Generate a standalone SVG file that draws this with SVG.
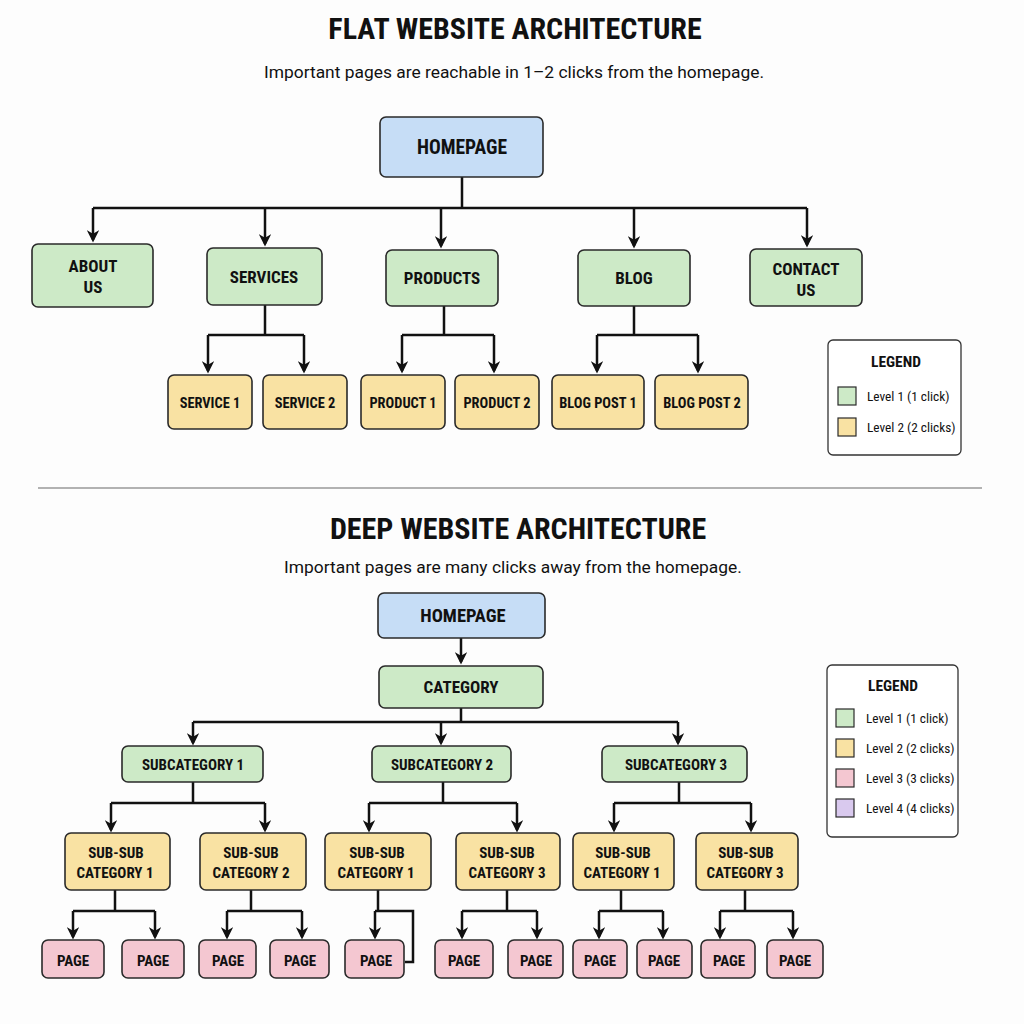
<svg xmlns="http://www.w3.org/2000/svg" width="1024" height="1024" viewBox="0 0 1024 1024">
<defs>
<marker id="ah" viewBox="0 0 10 10" refX="8" refY="5" markerWidth="5" markerHeight="5" markerUnits="strokeWidth" orient="auto">
<path d="M0,0 L10,5 L0,10 L3,5 z" fill="#111"/>
</marker>
<style>
.t{font-family:"Roboto Condensed","Liberation Sans Narrow","Liberation Sans",sans-serif;font-weight:bold;fill:#111;text-anchor:middle}
.title{font-size:30px}
.sub{font-family:"Roboto","Liberation Sans",sans-serif;font-size:17.4px;fill:#111;text-anchor:middle}
.nl{font-size:17px}
.ns{font-size:15px}
.lg{font-family:"Roboto Condensed","Liberation Sans Narrow","Roboto",sans-serif;font-size:13.3px;fill:#111}
.box{stroke:#2a2a2a;stroke-width:1.6}
.blue{fill:#c6ddf6}
.green{fill:#cdeac7}
.yellow{fill:#f9e2a3}
.pink{fill:#f4c7d1}
.purple{fill:#d9c9ee}
.c{fill:none;stroke:#111;stroke-width:2.5}
.legend{fill:#fff;stroke:#333;stroke-width:1.3}
</style>
</defs>
<rect width="1024" height="1024" fill="#fdfdfd"/>

<text class="t title" x="515" y="39">FLAT WEBSITE ARCHITECTURE</text>
<text class="sub" x="514" y="78">Important pages are reachable in 1–2 clicks from the homepage.</text>

<g id="connectors">
<path class="c" d="M462,177 V208 M93,208 H807"/>
<path class="c" marker-end="url(#ah)" d="M93,208 V240"/>
<path class="c" marker-end="url(#ah)" d="M265,208 V244"/>
<path class="c" marker-end="url(#ah)" d="M441,208 V246"/>
<path class="c" marker-end="url(#ah)" d="M634,208 V246"/>
<path class="c" marker-end="url(#ah)" d="M807,208 V245"/>
<path class="c" d="M265,305 V335 M208,335 H304"/>
<path class="c" marker-end="url(#ah)" d="M208,335 V371"/>
<path class="c" marker-end="url(#ah)" d="M304,335 V371"/>
<path class="c" d="M444,306 V335 M402,335 H494"/>
<path class="c" marker-end="url(#ah)" d="M402,335 V371"/>
<path class="c" marker-end="url(#ah)" d="M494,335 V371"/>
<path class="c" d="M634,306 V335 M597,335 H698"/>
<path class="c" marker-end="url(#ah)" d="M597,335 V371"/>
<path class="c" marker-end="url(#ah)" d="M698,335 V371"/>

<path class="c" marker-end="url(#ah)" d="M461,638 V662"/>
<path class="c" d="M461,708 V722 M193,722 H678"/>
<path class="c" marker-end="url(#ah)" d="M193,722 V743"/>
<path class="c" marker-end="url(#ah)" d="M441,722 V743"/>
<path class="c" marker-end="url(#ah)" d="M678,722 V743"/>
<path class="c" d="M193,782 V803 M111,803 H265"/>
<path class="c" marker-end="url(#ah)" d="M111,803 V830"/>
<path class="c" marker-end="url(#ah)" d="M265,803 V830"/>
<path class="c" d="M443,782 V803 M369,803 H517"/>
<path class="c" marker-end="url(#ah)" d="M369,803 V830"/>
<path class="c" marker-end="url(#ah)" d="M517,803 V830"/>
<path class="c" d="M679,782 V803 M614,803 H751"/>
<path class="c" marker-end="url(#ah)" d="M614,803 V830"/>
<path class="c" marker-end="url(#ah)" d="M751,803 V830"/>

<path class="c" d="M115,890 V911 M73,911 H155"/>
<path class="c" marker-end="url(#ah)" d="M73,911 V937"/>
<path class="c" marker-end="url(#ah)" d="M155,911 V937"/>
<path class="c" d="M251,890 V911 M227,911 H302"/>
<path class="c" marker-end="url(#ah)" d="M227,911 V937"/>
<path class="c" marker-end="url(#ah)" d="M302,911 V937"/>
<path class="c" d="M378,890 V911 M375,911 H413 V962 H405"/>
<path class="c" marker-end="url(#ah)" d="M375,911 V937"/>
<path class="c" d="M507,890 V911 M462,911 H537"/>
<path class="c" marker-end="url(#ah)" d="M462,911 V937"/>
<path class="c" marker-end="url(#ah)" d="M537,911 V937"/>
<path class="c" d="M621,890 V911 M599,911 H663"/>
<path class="c" marker-end="url(#ah)" d="M599,911 V937"/>
<path class="c" marker-end="url(#ah)" d="M663,911 V937"/>
<path class="c" d="M745,890 V911 M720,911 H793"/>
<path class="c" marker-end="url(#ah)" d="M720,911 V937"/>
<path class="c" marker-end="url(#ah)" d="M793,911 V937"/>
</g>

<g id="flat-homepage"><rect class="box blue" x="380" y="117" width="163" height="60" rx="6"/><text class="t" x="462" y="154" style="font-size:19.5px">HOMEPAGE</text></g>
<g id="about"><rect class="box green" x="32" y="244" width="121" height="63" rx="6"/><text class="t nl" x="93" y="272">ABOUT</text><text class="t nl" x="93" y="293">US</text></g>
<g id="services"><rect class="box green" x="207" y="248" width="115" height="57" rx="6"/><text class="t nl" x="264" y="283">SERVICES</text></g>
<g id="products"><rect class="box green" x="386" y="250" width="112" height="56" rx="6"/><text class="t nl" x="442" y="284">PRODUCTS</text></g>
<g id="blog"><rect class="box green" x="578" y="250" width="112" height="56" rx="6"/><text class="t nl" x="634" y="284">BLOG</text></g>
<g id="contact"><rect class="box green" x="750" y="249" width="112" height="57" rx="6"/><text class="t nl" x="806" y="275">CONTACT</text><text class="t nl" x="806" y="296">US</text></g>
<g id="service1"><rect class="box yellow" x="168" y="375" width="84" height="54" rx="6"/><text class="t ns" x="210" y="408" style="font-size:14.4px">SERVICE 1</text></g>
<g id="service2"><rect class="box yellow" x="263" y="375" width="84" height="54" rx="6"/><text class="t ns" x="305" y="408" style="font-size:14.4px">SERVICE 2</text></g>
<g id="product1"><rect class="box yellow" x="361" y="375" width="84" height="54" rx="6"/><text class="t ns" x="403" y="408" style="font-size:14.4px">PRODUCT 1</text></g>
<g id="product2"><rect class="box yellow" x="455" y="375" width="84" height="54" rx="6"/><text class="t ns" x="497" y="408" style="font-size:14.4px">PRODUCT 2</text></g>
<g id="blogpost1"><rect class="box yellow" x="552" y="375" width="92" height="54" rx="6"/><text class="t ns" x="598" y="408" style="font-size:14.4px">BLOG POST 1</text></g>
<g id="blogpost2"><rect class="box yellow" x="655" y="375" width="93" height="54" rx="6"/><text class="t ns" x="702" y="408" style="font-size:14.4px">BLOG POST 2</text></g>

<g id="legend-flat">
<rect class="legend" x="828" y="340" width="133" height="115" rx="5"/>
<text class="t" x="896" y="367" style="font-size:15.5px">LEGEND</text>
<rect class="box green" x="838" y="387" width="18" height="18" style="stroke-width:1.2"/>
<text class="lg" x="867" y="401">Level 1 (1 click)</text>
<rect class="box yellow" x="838" y="418" width="18" height="18" style="stroke-width:1.2"/>
<text class="lg" x="867" y="432">Level 2 (2 clicks)</text>
</g>

<line x1="38" y1="488" x2="982" y2="488" stroke="#999" stroke-width="1.5"/>

<text class="t title" x="518" y="539">DEEP WEBSITE ARCHITECTURE</text>
<text class="sub" x="513" y="573">Important pages are many clicks away from the homepage.</text>

<g id="deep-homepage"><rect class="box blue" x="378" y="593" width="167" height="45" rx="6"/><text class="t" x="463" y="622" style="font-size:18.5px">HOMEPAGE</text></g>
<g id="category"><rect class="box green" x="379" y="666" width="164" height="42" rx="6"/><text class="t nl" x="461" y="693">CATEGORY</text></g>
<g id="subcat1"><rect class="box green" x="122" y="746" width="141" height="36" rx="6"/><text class="t ns" x="193" y="770">SUBCATEGORY 1</text></g>
<g id="subcat2"><rect class="box green" x="372" y="746" width="139" height="36" rx="6"/><text class="t ns" x="442" y="770">SUBCATEGORY 2</text></g>
<g id="subcat3"><rect class="box green" x="602" y="746" width="145" height="36" rx="6"/><text class="t ns" x="676" y="770">SUBCATEGORY 3</text></g>

<g id="ss1a"><rect class="box yellow" x="65" y="833" width="105" height="57" rx="6"/><text class="t ns" x="116" y="858">SUB-SUB</text><text class="t ns" x="115" y="878">CATEGORY 1</text></g>
<g id="ss1b"><rect class="box yellow" x="200" y="833" width="106" height="57" rx="6"/><text class="t ns" x="251" y="858">SUB-SUB</text><text class="t ns" x="251" y="878">CATEGORY 2</text></g>
<g id="ss2a"><rect class="box yellow" x="325" y="833" width="106" height="57" rx="6"/><text class="t ns" x="377" y="858">SUB-SUB</text><text class="t ns" x="376" y="878">CATEGORY 1</text></g>
<g id="ss2b"><rect class="box yellow" x="456" y="833" width="104" height="57" rx="6"/><text class="t ns" x="507" y="858">SUB-SUB</text><text class="t ns" x="507" y="878">CATEGORY 3</text></g>
<g id="ss3a"><rect class="box yellow" x="573" y="833" width="101" height="57" rx="6"/><text class="t ns" x="623" y="858">SUB-SUB</text><text class="t ns" x="622" y="878">CATEGORY 1</text></g>
<g id="ss3b"><rect class="box yellow" x="696" y="833" width="102" height="57" rx="6"/><text class="t ns" x="746" y="858">SUB-SUB</text><text class="t ns" x="745" y="878">CATEGORY 3</text></g>

<g id="p1"><rect class="box pink" x="42" y="940" width="62" height="38" rx="6"/><text class="t ns" x="73" y="966">PAGE</text></g>
<g id="p2"><rect class="box pink" x="122" y="940" width="62" height="38" rx="6"/><text class="t ns" x="153" y="966">PAGE</text></g>
<g id="p3"><rect class="box pink" x="199" y="940" width="57" height="38" rx="6"/><text class="t ns" x="228" y="966">PAGE</text></g>
<g id="p4"><rect class="box pink" x="270" y="940" width="59" height="38" rx="6"/><text class="t ns" x="300" y="966">PAGE</text></g>
<g id="p5"><rect class="box pink" x="345" y="940" width="59" height="38" rx="6"/><text class="t ns" x="376" y="966">PAGE</text></g>
<g id="p6"><rect class="box pink" x="435" y="940" width="58" height="38" rx="6"/><text class="t ns" x="464" y="966">PAGE</text></g>
<g id="p7"><rect class="box pink" x="508" y="940" width="55" height="38" rx="6"/><text class="t ns" x="536" y="966">PAGE</text></g>
<g id="p8"><rect class="box pink" x="573" y="940" width="54" height="38" rx="6"/><text class="t ns" x="600" y="966">PAGE</text></g>
<g id="p9"><rect class="box pink" x="637" y="940" width="55" height="38" rx="6"/><text class="t ns" x="664" y="966">PAGE</text></g>
<g id="p10"><rect class="box pink" x="701" y="940" width="54" height="38" rx="6"/><text class="t ns" x="729" y="966">PAGE</text></g>
<g id="p11"><rect class="box pink" x="767" y="940" width="56" height="38" rx="6"/><text class="t ns" x="795" y="966">PAGE</text></g>

<g id="legend-deep">
<rect class="legend" x="827" y="665" width="131" height="172" rx="5"/>
<text class="t" x="893" y="691" style="font-size:15.5px">LEGEND</text>
<rect class="box green" x="836" y="709" width="18" height="18" style="stroke-width:1.2"/>
<text class="lg" x="866" y="723">Level 1 (1 click)</text>
<rect class="box yellow" x="836" y="739" width="18" height="18" style="stroke-width:1.2"/>
<text class="lg" x="866" y="753">Level 2 (2 clicks)</text>
<rect class="box pink" x="836" y="769" width="18" height="18" style="stroke-width:1.2"/>
<text class="lg" x="866" y="783">Level 3 (3 clicks)</text>
<rect class="box purple" x="836" y="799" width="18" height="18" style="stroke-width:1.2"/>
<text class="lg" x="866" y="813">Level 4 (4 clicks)</text>
</g>
</svg>
